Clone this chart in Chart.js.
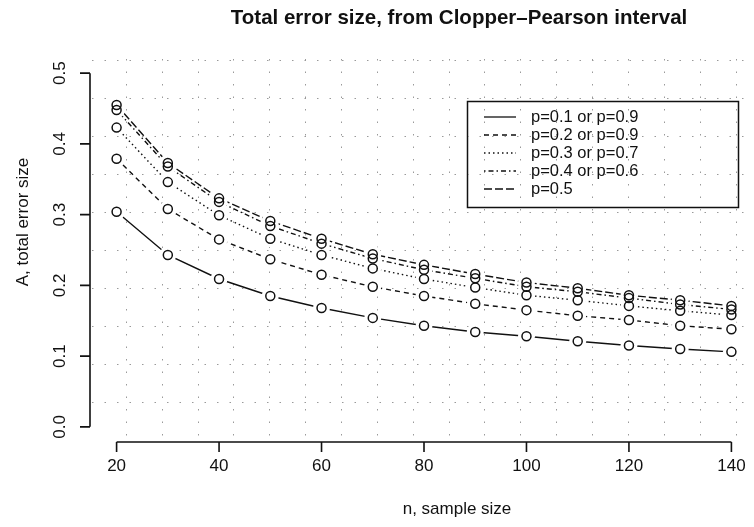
<!DOCTYPE html>
<html>
<head>
<meta charset="utf-8">
<script src="https://cdn.jsdelivr.net/npm/chart.js@4.4.0/dist/chart.umd.min.js"></script>
<style>
  html, body { margin: 0; padding: 0; background: #fff; }
  #wrap { width: 754px; height: 527px; }
</style>
</head>
<body>
<div id="wrap"><canvas id="errChart" width="754" height="527"></canvas></div>
<script>
// values
const sampleSizes = [20, 30, 40, 50, 60, 70, 80, 90, 100, 110, 120, 130, 140];
const errP01 = [0.304, 0.243, 0.209, 0.185, 0.168, 0.154, 0.143, 0.134, 0.128, 0.121, 0.115, 0.110, 0.106];
const errP02 = [0.379, 0.308, 0.265, 0.237, 0.215, 0.198, 0.185, 0.174, 0.165, 0.157, 0.151, 0.143, 0.138];
const errP03 = [0.423, 0.346, 0.299, 0.266, 0.243, 0.224, 0.209, 0.197, 0.186, 0.179, 0.171, 0.164, 0.158];
const errP04 = [0.448, 0.368, 0.318, 0.284, 0.259, 0.238, 0.222, 0.210, 0.198, 0.191, 0.182, 0.173, 0.166];
const errP05 = [0.455, 0.373, 0.323, 0.291, 0.266, 0.244, 0.229, 0.216, 0.204, 0.196, 0.186, 0.179, 0.171];
const seriesLabels = ["p=0.1 or p=0.9", "p=0.2 or p=0.9", "p=0.3 or p=0.7", "p=0.4 or p=0.6", "p=0.5"];
const xTicks = [20, 40, 60, 80, 100, 120, 140];
const yTicks = [0, 0.1, 0.2, 0.3, 0.4, 0.5];
const yTickLabels = ["0.0", "0.1", "0.2", "0.3", "0.4", "0.5"];

const titleText = "Total error size, from Clopper\u2013Pearson interval";
const xTitle = "n, sample size";
const yTitle = "A, total error size";

// R line types: solid, dashed, dotted, dotdash, longdash
const lineDashes = [[], [5, 4], [1.5, 3], [1.5, 3, 5, 3], [8, 3]];
const ink = "#111";
const FONT = "'Liberation Sans', Arial, Helvetica, sans-serif";

const allSeries = [errP01, errP02, errP03, errP04, errP05];

function toPoints(vals) {
    return sampleSizes.map((n, i) => ({ x: n, y: vals[i] }));
}

const datasets = [];
allSeries.forEach((vals, i) => {
    datasets.push({
        label: seriesLabels[i],
        data: toPoints(vals),
        borderColor: ink,
        borderWidth: 1.4,
        borderDash: lineDashes[i],
        pointRadius: 0,
        fill: false,
        tension: 0,
        order: 3
    });
    // white disc: the gap R leaves round each point with type="b"
    datasets.push({
        data: toPoints(vals),
        showLine: false,
        pointRadius: 8.5,
        pointBorderWidth: 0,
        pointBackgroundColor: "#fff",
        order: 2
    });
    datasets.push({
        data: toPoints(vals),
        showLine: false,
        pointRadius: 4.5,
        pointBorderWidth: 1.5,
        pointBorderColor: ink,
        pointBackgroundColor: "rgba(0,0,0,0)",
        order: 1
    });
});

function text(ctx, str, x, y, font, rot) {
    ctx.save();
    ctx.translate(x, y);
    if (rot) ctx.rotate(rot);
    ctx.font = font;
    ctx.fillStyle = ink;
    ctx.textAlign = "center";
    ctx.textBaseline = "middle";
    ctx.fillText(str, 0, 0);
    ctx.restore();
}

const rAxes = {
    id: "rAxes",
    beforeDatasetsDraw(chart) {
        const { ctx, chartArea: a, scales } = chart;
        ctx.save();
        ctx.strokeStyle = "#9a9a9a";
        ctx.lineWidth = 1;
        ctx.setLineDash([1.5, 11]);
        // faint dotted grid behind the plot
        for (let n = 21.8; n <= scales.x.max; n += 7) {
            const px = Math.round(scales.x.getPixelForValue(n)) + 0.5;
            ctx.beginPath(); ctx.moveTo(px, a.top); ctx.lineTo(px, a.bottom); ctx.stroke();
        }
        for (let k = -4; k <= 5; k++) {
            const py = Math.round(scales.y.getPixelForValue(0.25 + 0.0537 * k)) + 0.5;
            ctx.beginPath(); ctx.moveTo(a.left, py); ctx.lineTo(a.right, py); ctx.stroke();
        }
        ctx.restore();
    },
    afterDatasetsDraw(chart) {
        const { ctx, chartArea: a, scales } = chart;
        const sx = scales.x, sy = scales.y;
        ctx.save();
        ctx.strokeStyle = ink;
        ctx.lineWidth = 1.6;
        ctx.setLineDash([]);

        // y axis
        const ax = a.left - 2;
        ctx.beginPath();
        ctx.moveTo(ax, sy.getPixelForValue(yTicks[0]));
        ctx.lineTo(ax, sy.getPixelForValue(yTicks[yTicks.length - 1]));
        yTicks.forEach(v => {
            const py = sy.getPixelForValue(v);
            ctx.moveTo(ax, py); ctx.lineTo(ax - 10, py);
        });
        ctx.stroke();
        yTicks.forEach((v, i) => {
            text(ctx, yTickLabels[i], 60, sy.getPixelForValue(v), "17px " + FONT, -Math.PI / 2);
        });

        // x axis
        const ay = a.bottom + 1;
        ctx.beginPath();
        ctx.moveTo(sx.getPixelForValue(xTicks[0]), ay);
        ctx.lineTo(sx.getPixelForValue(xTicks[xTicks.length - 1]), ay);
        xTicks.forEach(v => {
            const px = sx.getPixelForValue(v);
            ctx.moveTo(px, ay); ctx.lineTo(px, ay + 10);
        });
        ctx.stroke();
        xTicks.forEach(v => {
            text(ctx, String(v), sx.getPixelForValue(v), 466, "17px " + FONT);
        });

        text(ctx, xTitle, 457, 509, "17px " + FONT);
        text(ctx, yTitle, 23, 222, "17px " + FONT, -Math.PI / 2);
        text(ctx, titleText, 459, 18, "bold 20.5px " + FONT);

        // legend box
        ctx.lineWidth = 1.5;
        ctx.strokeRect(467.5, 101.5, 271, 106);
        seriesLabels.forEach((lab, i) => {
            const ly = 117 + i * 18;
            ctx.lineWidth = 1.3;
            ctx.setLineDash(lineDashes[i]);
            ctx.beginPath(); ctx.moveTo(484, ly); ctx.lineTo(516, ly); ctx.stroke();
            ctx.setLineDash([]);
            ctx.font = "16.5px " + FONT;
            ctx.fillStyle = ink;
            ctx.textAlign = "left";
            ctx.textBaseline = "middle";
            ctx.fillText(lab, 531, ly);
        });
        ctx.restore();
    }
};

new Chart(document.getElementById("errChart"), {
    type: "line",
    data: { datasets: datasets },
    options: {
        responsive: false,
        animation: false,
        devicePixelRatio: 1,
        layout: { padding: { left: 92, right: 0, top: 59, bottom: 86 } },
        scales: {
            x: { type: "linear", min: 15.2, max: 142.75, display: false },
            y: { type: "linear", min: -0.02, max: 0.52, display: false }
        },
        plugins: {
            legend: { display: false },
            tooltip: { enabled: false },
            title: { display: false }
        }
    },
    plugins: [rAxes]
});
</script>
</body>
</html>
